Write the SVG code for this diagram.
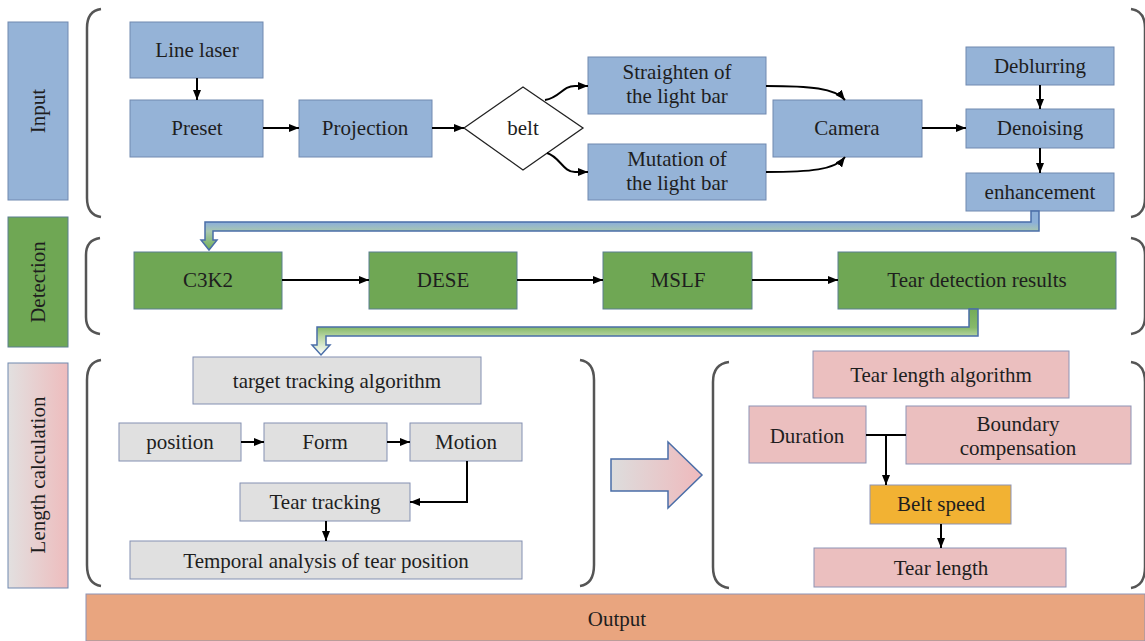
<svg xmlns="http://www.w3.org/2000/svg" width="1145" height="641" viewBox="0 0 1145 641">
<style>
text{font-family:"Liberation Serif","Times New Roman",serif;font-size:21px;fill:#1e1e1e;text-anchor:middle}
.b{fill:#95b3d7;stroke:#7189b0;stroke-width:1}
.g{fill:#6fa754;stroke:#5a7f8f;stroke-width:1}
.p{fill:#ebbfbf;stroke:#8d93b5;stroke-width:1}
.y{fill:#e0e0e0;stroke:#8390b2;stroke-width:1}
.o{fill:#f2b233;stroke:#8d93b5;stroke-width:1}
.br{fill:none;stroke:#555;stroke-width:2.5}
.c{fill:none;stroke:#000;stroke-width:2}
</style>
<defs>
<marker id="ah" viewBox="0 0 10 8" refX="10" refY="4" markerWidth="10" markerHeight="8" markerUnits="userSpaceOnUse" orient="auto"><path d="M0,0 L10,4 L0,8 Z" fill="#000"/></marker>
<linearGradient id="lc" x1="0" y1="0" x2="1" y2="0"><stop offset="0" stop-color="#e2e0e0"/><stop offset="1" stop-color="#eebcbd"/></linearGradient>
<linearGradient id="band1" x1="0" y1="0" x2="0" y2="1"><stop offset="0" stop-color="#8db0d8"/><stop offset="0.3" stop-color="#8db0d8"/><stop offset="0.52" stop-color="#a9c8b0"/><stop offset="1" stop-color="#6fae52"/></linearGradient>
<linearGradient id="band2" x1="0" y1="0" x2="0" y2="1"><stop offset="0" stop-color="#74ab58"/><stop offset="0.4" stop-color="#86b96a"/><stop offset="0.6" stop-color="#b8d6a2"/><stop offset="1" stop-color="#ffffff"/></linearGradient>
<linearGradient id="big" x1="0" y1="0" x2="1" y2="0"><stop offset="0" stop-color="#dddddd"/><stop offset="1" stop-color="#efb9bc"/></linearGradient>
</defs>

<g id="side-labels">
<g id="input-label"><rect class="b" x="8" y="22" width="60" height="178"/><text transform="translate(38,111) rotate(-90)" y="7">Input</text></g>
<g id="detection-label"><rect class="g" x="8" y="217" width="60" height="130"/><text transform="translate(38,282) rotate(-90)" y="7">Detection</text></g>
<g id="length-label"><rect x="8" y="363" width="60" height="225" fill="url(#lc)" stroke="#7189b0" stroke-width="1"/><text transform="translate(38,475) rotate(-90)" y="7">Length calculation</text></g>
</g>

<g id="brackets">
<path class="br" d="M101,9 Q87,11 87,28 V198 Q87,215 101,217"/>
<path class="br" d="M1131,9 Q1145,11 1145,28 V198 Q1145,215 1131,217"/>
<path class="br" d="M100,238 Q86,240 86,255 V317 Q86,332 100,334"/>
<path class="br" d="M1131,238 Q1145,240 1145,255 V317 Q1145,332 1131,334"/>
<path class="br" d="M101,360 Q87,362 87,380 V565 Q87,584 101,586"/>
<path class="br" d="M580,360 Q594,362 594,380 V565 Q594,584 580,586"/>
<path class="br" d="M729,362 Q713,364 713,382 V567 Q713,586 729,588"/>
<path class="br" d="M1131,362 Q1145,364 1145,382 V567 Q1145,586 1131,588"/>
</g>

<g id="nodes">
<g id="line-laser"><rect class="b" x="130" y="22" width="133" height="56"/><text x="197" y="57">Line laser</text></g>
<g id="preset"><rect class="b" x="130" y="100" width="133" height="57"/><text x="197" y="135">Preset</text></g>
<g id="projection"><rect class="b" x="299" y="100" width="133" height="57"/><text x="365" y="135">Projection</text></g>
<g id="belt"><polygon points="464,128 523,87 583,128 523,170" fill="#fff" stroke="#222" stroke-width="1.3"/><text x="523" y="135">belt</text></g>
<g id="straighten"><rect class="b" x="588" y="57" width="178" height="57"/><text x="677" y="79">Straighten of</text><text x="677" y="103">the light bar</text></g>
<g id="mutation"><rect class="b" x="588" y="144" width="178" height="56"/><text x="677" y="166">Mutation of</text><text x="677" y="190">the light bar</text></g>
<g id="camera"><rect class="b" x="773" y="100" width="149" height="57"/><text x="847" y="135">Camera</text></g>
<g id="deblurring"><rect class="b" x="966" y="47" width="148" height="38"/><text x="1040" y="73">Deblurring</text></g>
<g id="denoising"><rect class="b" x="966" y="109" width="148" height="39"/><text x="1040" y="135">Denoising</text></g>
<g id="enhancement"><rect class="b" x="966" y="173" width="148" height="38"/><text x="1040" y="199">enhancement</text></g>

<g id="c3k2"><rect class="g" x="134" y="252" width="148" height="57"/><text x="208" y="287">C3K2</text></g>
<g id="dese"><rect class="g" x="369" y="252" width="148" height="57"/><text x="443" y="287">DESE</text></g>
<g id="mslf"><rect class="g" x="603" y="252" width="149" height="57"/><text x="678" y="287">MSLF</text></g>
<g id="tear-detection"><rect class="g" x="838" y="252" width="278" height="57"/><text x="977" y="287">Tear detection results</text></g>

<g id="target-tracking"><rect class="y" x="193" y="357" width="288" height="47"/><text x="337" y="388">target tracking algorithm</text></g>
<g id="position"><rect class="y" x="119" y="423" width="122" height="38"/><text x="180" y="449">position</text></g>
<g id="form"><rect class="y" x="264" y="423" width="123" height="38"/><text x="325" y="449">Form</text></g>
<g id="motion"><rect class="y" x="410" y="423" width="112" height="38"/><text x="466" y="449">Motion</text></g>
<g id="tear-tracking"><rect class="y" x="240" y="483" width="170" height="38"/><text x="325" y="509">Tear tracking</text></g>
<g id="temporal"><rect class="y" x="130" y="541" width="392" height="38"/><text x="326" y="568">Temporal analysis of tear position</text></g>

<g id="big-arrow"><polygon points="611,459 668,459 668,442 702,475 668,508 668,491 611,491" fill="url(#big)" stroke="#4a6ea8" stroke-width="1.5"/></g>

<g id="tear-length-algorithm"><rect class="p" x="813" y="351" width="256" height="47"/><text x="941" y="382">Tear length algorithm</text></g>
<g id="duration"><rect class="p" x="749" y="406" width="117" height="57"/><text x="807" y="443">Duration</text></g>
<g id="boundary"><rect class="p" x="906" y="406" width="225" height="58"/><text x="1018" y="431">Boundary</text><text x="1018" y="455">compensation</text></g>
<g id="belt-speed"><rect class="o" x="870" y="485" width="141" height="39"/><text x="941" y="511">Belt speed</text></g>
<g id="tear-length"><rect class="p" x="814" y="548" width="252" height="39"/><text x="941" y="575">Tear length</text></g>

<g id="output"><rect x="86" y="594" width="1059" height="47" fill="#e9a57f" stroke="#8d93b5" stroke-width="1"/><text x="617" y="626">Output</text></g>
</g>

<g id="connectors">
<path class="c" d="M197,78 V100" marker-end="url(#ah)"/>
<path class="c" d="M263,128 H299" marker-end="url(#ah)"/>
<path class="c" d="M432,128 H464" marker-end="url(#ah)"/>
<path class="c" d="M545,100 C560,98 562,86 575,86 L588,86" marker-end="url(#ah)"/>
<path class="c" d="M547,153 C560,157 563,172 575,172 L588,172" marker-end="url(#ah)"/>
<path class="c" d="M766,86 C810,86 835,88 845,100" marker-end="url(#ah)"/>
<path class="c" d="M766,172 C810,172 835,170 845,157" marker-end="url(#ah)"/>
<path class="c" d="M922,128 H966" marker-end="url(#ah)"/>
<path class="c" d="M1040,85 V109" marker-end="url(#ah)"/>
<path class="c" d="M1040,148 V173" marker-end="url(#ah)"/>
<path d="M1031,211 L1039,211 L1039,231 L213,231 L213,240 L217,240 L209,250 L201,240 L205,240 L205,222 L1031,222 Z" fill="url(#band1)" stroke="#4a6ea8" stroke-width="1.5"/>
<path class="c" d="M282,280 H369" marker-end="url(#ah)"/>
<path class="c" d="M517,280 H603" marker-end="url(#ah)"/>
<path class="c" d="M752,280 H838" marker-end="url(#ah)"/>
<path d="M969,309 L978,309 L978,336 L326,336 L326,345 L330,345 L321,355 L312,345 L317,345 L317,327 L969,327 Z" fill="url(#band2)" stroke="#4a6ea8" stroke-width="1.5"/>
<path class="c" d="M241,442 H264" marker-end="url(#ah)"/>
<path class="c" d="M387,442 H410" marker-end="url(#ah)"/>
<path class="c" d="M467,461 V502 H410" marker-end="url(#ah)"/>
<path class="c" d="M326,521 V541" marker-end="url(#ah)"/>
<path class="c" d="M866,435 H906" stroke-width="2.5"/>
<path class="c" d="M886,435 V485" marker-end="url(#ah)"/>
<path class="c" d="M941,524 V548" marker-end="url(#ah)"/>
</g>
</svg>
